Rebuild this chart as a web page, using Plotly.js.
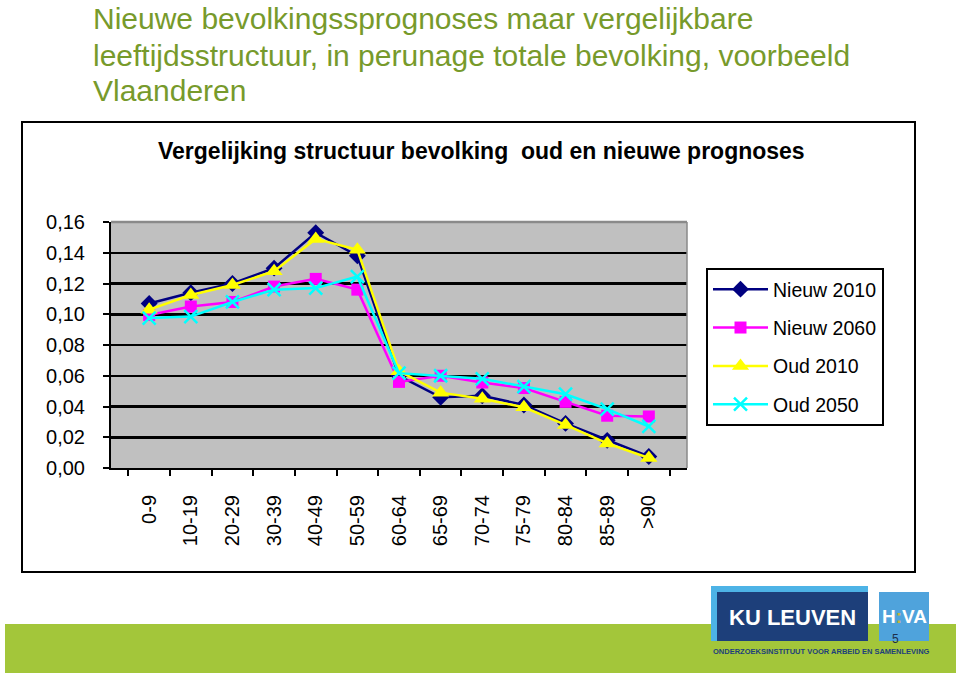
<!DOCTYPE html>
<html>
<head>
<meta charset="utf-8">
<script src="https://cdn.plot.ly/plotly-3.0.1.min.js"></script>
<style>
html,body{margin:0;padding:0;background:#fff;}
#chart{width:960px;height:676px;}
</style>
</head>
<body>
<div id="chart"></div>
<script>
var categories = ["0-9","10-19","20-29","30-39","40-49","50-59","60-64","65-69","70-74","75-79","80-84","85-89",">90"];
var nieuw2010 = [0.107,0.114,0.120,0.130,0.153,0.138,0.060,0.046,0.047,0.041,0.029,0.018,0.0075];
var nieuw2060 = [0.0995,0.105,0.108,0.118,0.123,0.116,0.056,0.060,0.0556,0.052,0.043,0.034,0.0335];
var oud2010   = [0.103,0.1125,0.119,0.128,0.149,0.142,0.063,0.049,0.045,0.0395,0.028,0.016,0.0065];
var oud2050   = [0.0975,0.0985,0.108,0.116,0.117,0.1245,0.0617,0.060,0.058,0.053,0.048,0.0383,0.027];
var seriesNames = ["Nieuw 2010","Nieuw 2060","Oud 2010","Oud 2050"];
var titleLines = ["Nieuwe bevolkingssprognoses maar vergelijkbare",
                  "leeftijdsstructuur, in perunage totale bevolking, voorbeeld",
                  "Vlaanderen"];

var W = 960, H = 676;
function px(x){return x/W;}
function py(y){return (H-y)/H;}
var FONT = 'Liberation Sans, Arial, sans-serif';

var traces = [
  {x:categories, y:nieuw2010, name:seriesNames[0], type:'scatter', mode:'lines+markers',
   line:{color:'#000080', width:2.5}, marker:{symbol:'diamond', size:13, color:'#000080'}, legendgroup:'a'},
  {x:categories, y:nieuw2060, name:seriesNames[1], type:'scatter', mode:'lines+markers',
   line:{color:'#ff00ff', width:2.5}, marker:{symbol:'square', size:12, color:'#ff00ff'}, legendgroup:'b'},
  {x:categories, y:oud2010, name:seriesNames[2], type:'scatter', mode:'lines+markers',
   line:{color:'#ffff00', width:2.5}, marker:{symbol:'triangle-up', size:15, color:'#ffff00'}, legendgroup:'c'},
  {x:categories, y:oud2050, name:seriesNames[3], type:'scatter', mode:'lines+markers',
   line:{color:'#00ffff', width:2.5}, marker:{symbol:'x-thin-open', size:13, color:'#00ffff', line:{color:'#00ffff', width:2.5}}, legendgroup:'d'}
];

var annotations = titleLines.map(function(t, i){
  return {xref:'paper', yref:'paper', x:px(92), y:py(19 + i*36), xanchor:'left', yanchor:'middle', align:'left', showarrow:false,
          borderpad:0, text:t, font:{size:30, color:'#779a2b', family:FONT}};
});
annotations = annotations.concat([
  {xref:'paper', yref:'paper', x:px(481), y:py(151), xanchor:'center', yanchor:'middle', showarrow:false,
   text:'<b>Vergelijking structuur bevolking  oud en nieuwe prognoses</b>',
   font:{size:23, color:'#000', family:FONT}},
  {xref:'paper', yref:'paper', x:px(792), y:py(617), xanchor:'center', yanchor:'middle', showarrow:false,
   text:'<b>KU LEUVEN</b>',
   font:{size:22, color:'#ffffff', family:FONT}},
  {xref:'paper', yref:'paper', x:px(904), y:py(616), xanchor:'center', yanchor:'middle', showarrow:false,
   text:'<b>H<span style="color:#c8b43a">:</span>VA</b>',
   font:{size:19, color:'#ffffff', family:FONT}},
  {xref:'paper', yref:'paper', x:px(895), y:py(639), xanchor:'center', yanchor:'middle', showarrow:false,
   text:'5', font:{size:12, color:'#1d2f4a', family:FONT}},
  {xref:'paper', yref:'paper', x:px(821), y:py(651), xanchor:'center', yanchor:'middle', showarrow:false,
   text:'<b>ONDERZOEKSINSTITUUT VOOR ARBEID EN SAMENLEVING</b>',
   font:{size:7.5, color:'#1d3f7a', family:FONT}}
]);

var layout = {
  width: W, height: H,
  margin:{l:0,r:0,t:0,b:0},
  paper_bgcolor:'#ffffff',
  plot_bgcolor:'#c0c0c0',
  separators:',.',
  showlegend:true,
  font:{family:FONT, color:'#000'},
  xaxis:{
    domain:[px(111), px(687)],
    type:'category',
    tickangle:-90,
    ticks:'outside', ticklen:6, tickwidth:2, tickcolor:'#000',
    tickson:'boundaries',
    ticklabelstandoff:17,
    showline:true, linecolor:'#000', linewidth:2,
    showgrid:false, zeroline:false,
    tickfont:{size:20, color:'#000'},
    automargin:false
  },
  yaxis:{
    domain:[py(468), py(222)],
    range:[0,0.16],
    dtick:0.02,
    tickformat:'.2f',
    ticks:'outside', ticklen:6, tickwidth:2, tickcolor:'#000',
    ticklabelstandoff:14,
    showline:true, linecolor:'#000', linewidth:2,
    showgrid:true, gridcolor:'#000', gridwidth:2.5,
    zeroline:false,
    tickfont:{size:20, color:'#000'},
    automargin:false
  },
  legend:{
    x:px(706), y:py(268), xanchor:'left', yanchor:'top',
    bgcolor:'#ffffff', bordercolor:'#000', borderwidth:2,
    font:{size:19.5, color:'#000'},
    traceorder:'grouped', tracegroupgap:10,
    itemwidth:55
  },
  shapes:[
    {type:'rect', xref:'paper', yref:'paper', x0:px(22), x1:px(915), y0:py(572), y1:py(122),
     line:{color:'#000', width:2}, fillcolor:'rgba(0,0,0,0)', layer:'below'},
    {type:'line', xref:'x domain', yref:'y domain', x0:0, x1:1, y0:1, y1:1,
     line:{color:'#8a8a8a', width:2.5}, layer:'above'},
    {type:'line', xref:'x domain', yref:'y domain', x0:1, x1:1, y0:0, y1:1,
     line:{color:'#8a8a8a', width:1.5}, layer:'above'},
    {type:'rect', xref:'paper', yref:'paper', x0:px(5), x1:px(956), y0:py(673), y1:py(624),
     line:{width:0}, fillcolor:'#a3c63a', layer:'above'},
    {type:'rect', xref:'paper', yref:'paper', x0:px(711), x1:px(868), y0:py(641), y1:py(586),
     line:{width:0}, fillcolor:'#4db3e6', layer:'above'},
    {type:'rect', xref:'paper', yref:'paper', x0:px(717), x1:px(868), y0:py(641), y1:py(592),
     line:{width:0}, fillcolor:'#1d3f7a', layer:'above'},
    {type:'rect', xref:'paper', yref:'paper', x0:px(879), x1:px(929), y0:py(641), y1:py(592),
     line:{width:0}, fillcolor:'#4fa3dc', layer:'above'}
  ],
  annotations: annotations
};

Plotly.newPlot('chart', traces, layout, {displayModeBar:false, staticPlot:true});
</script>
</body>
</html>
